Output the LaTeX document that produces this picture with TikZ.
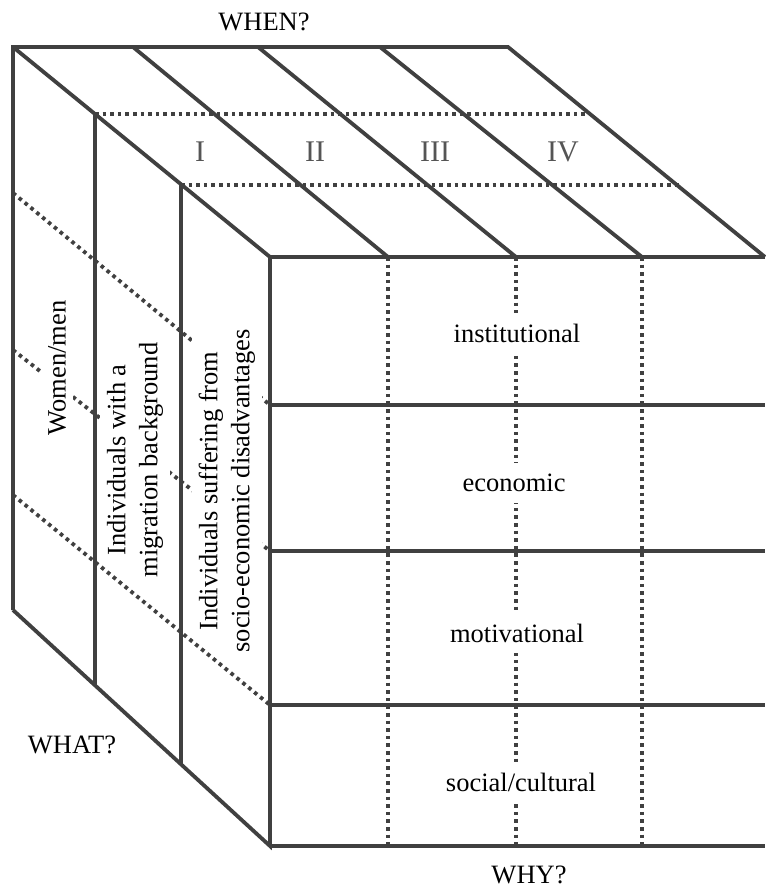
\documentclass[tikz,border=0pt]{standalone}
\usepackage{fontspec}
\setmainfont{Liberation Serif}
\definecolor{linegray}{HTML}{404040}
\definecolor{numgray}{HTML}{555555}
\begin{document}
\begin{tikzpicture}[x=1pt,y=-1pt,
  edge/.style={line width=3.8pt, draw=linegray, line join=miter},
  dots/.style={line width=3.8pt, draw=linegray, dash pattern=on 3.6pt off 4pt},
  lab/.style={font=\fontsize{26.5}{32}\selectfont, inner sep=2pt},
  cell/.style={lab, fill=white, inner xsep=4pt, inner ysep=11pt},
  side/.style={lab, fill=white, rotate=90, align=center, inner xsep=2pt, inner ysep=7pt},
  num/.style={font=\fontsize{30}{36}\selectfont, text=numgray, inner sep=0pt}]
\useasboundingbox[fill=white] (0,0) rectangle (765,890);
% corners
\coordinate (B1) at (13,47);
\coordinate (B2) at (508,47);
\coordinate (F1) at (270,257);
\coordinate (F2) at (765,257);
\coordinate (BL) at (13,610);
\coordinate (FBL) at (270,846);
\coordinate (FBR) at (765,846);
% dotted lines (behind)
\draw[dots] (95,114) -- (590,114);
\draw[dots] (181,185) -- (682,185);
\foreach \x in {388,516,642} \draw[dots] (\x,257) -- (\x,846);
\draw[dots] (13,193) -- (270,405);
\draw[dots] (13,350) -- (270,551);
% solid edges
\draw[edge] (BL) -- (B1) -- (B2) -- (F2);
\draw[edge] (B1) -- (F1) -- (FBL) -- (BL);
\draw[edge] (F1) -- (F2);
\draw[edge] (FBL) -- (FBR);
\draw[edge] (133,47) -- (388,257);
\draw[edge] (258,47) -- (516,257);
\draw[edge] (380,47) -- (642,257);
\draw[edge] (95,114) -- (95,685);
\draw[edge] (181,185) -- (181,764);
\foreach \y in {405,551,705} \draw[edge] (270,\y) -- (765,\y);
% side labels
\node[side] (wm) at (57,368) {Women/men};
\node[side] (mig) at (135,460) {Individuals with a\\migration background};
\node[side] (soc) at (227,491) {Individuals suffering from\\socio-economic disadvantages};
\draw[dots] (13,495) -- (270,705);
% front labels
\node[cell] (inst) at (517,333) {institutional};
\node[cell] (eco) at (514,483) {economic};
\node[cell] (mot) at (517,633) {motivational};
\node[cell] (sc) at (521,782) {social/cultural};
% numerals
\node[num] (n1) at (200,152) {I};
\node[num] (n2) at (315,152) {II};
\node[num] (n3) at (435,152) {III};
\node[num] (n4) at (563,152) {IV};
% axis labels
\node[lab] (when) at (264,22) {WHEN?};
\node[lab] (what) at (72,745) {WHAT?};
\node[lab] (why) at (529,875) {WHY?};
\end{tikzpicture}
\end{document}
